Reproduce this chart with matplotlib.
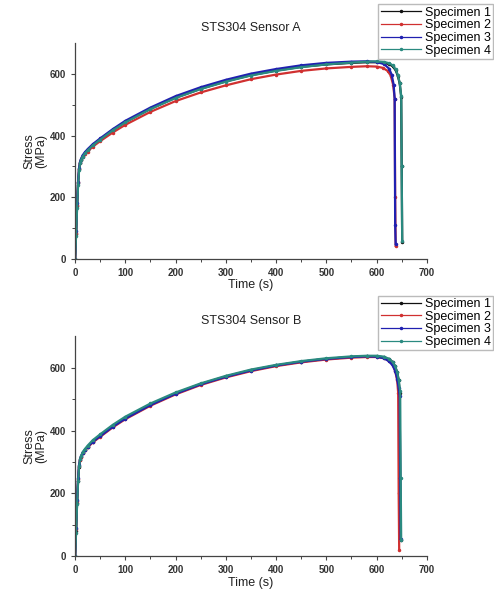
import matplotlib
matplotlib.use("Agg")
import matplotlib.pyplot as plt

plt.rcParams['font.family'] = ['Liberation Sans', 'DejaVu Sans']

specimens = ["Specimen 1", "Specimen 2", "Specimen 3", "Specimen 4"]
colors = ["#111111", "#d03030", "#2020b0", "#2a8a80"]
titles = ["STS304 Sensor A", "STS304 Sensor B"]
x_ticks = [0, 100, 200, 300, 400, 500, 600, 700]
y_ticks = [0, 200, 400, 600]

# ---- Sensor A ----
a1_t = [0, 2, 4, 6, 8, 10, 12, 15, 20, 25, 35, 50, 75, 100, 150, 200, 250, 300, 350, 400, 450, 500, 550, 580, 600, 615, 625, 632, 638, 642, 646, 649, 650, 651]
a1_s = [0, 80, 170, 245, 290, 312, 322, 333, 344, 353, 369, 388, 418, 444, 487, 523, 552, 576, 596, 611, 623, 631, 636, 638, 638, 636, 632, 625, 612, 595, 570, 525, 300, 55]
a2_t = [0, 2, 4, 6, 8, 10, 12, 15, 20, 25, 35, 50, 75, 100, 150, 200, 250, 300, 350, 400, 450, 500, 550, 580, 600, 612, 622, 628, 633, 636, 637, 638]
a2_s = [0, 85, 175, 248, 292, 312, 321, 330, 340, 348, 364, 382, 410, 435, 477, 512, 540, 563, 583, 598, 610, 618, 623, 625, 624, 620, 610, 595, 565, 520, 200, 42]
a3_t = [0, 2, 4, 6, 8, 10, 12, 15, 20, 25, 35, 50, 75, 100, 150, 200, 250, 300, 350, 400, 450, 500, 550, 580, 600, 615, 625, 630, 634, 636, 637, 638]
a3_s = [0, 90, 180, 250, 295, 315, 325, 336, 347, 356, 372, 391, 421, 448, 491, 528, 557, 581, 601, 616, 628, 636, 640, 641, 639, 632, 617, 598, 565, 520, 110, 48]
a4_t = [0, 2, 4, 6, 8, 10, 12, 15, 20, 25, 35, 50, 75, 100, 150, 200, 250, 300, 350, 400, 450, 500, 550, 580, 600, 615, 625, 632, 638, 642, 646, 649, 650, 651]
a4_s = [0, 75, 165, 240, 288, 310, 321, 332, 343, 352, 368, 387, 417, 443, 486, 522, 551, 575, 595, 610, 622, 631, 637, 640, 641, 639, 635, 628, 615, 598, 572, 530, 300, 58]

# ---- Sensor B ----
b1_t = [0, 2, 4, 6, 8, 10, 12, 15, 20, 25, 35, 50, 75, 100, 150, 200, 250, 300, 350, 400, 450, 500, 550, 580, 600, 615, 625, 632, 637, 641, 644, 646, 647, 648]
b1_s = [0, 80, 170, 240, 285, 305, 316, 328, 339, 348, 364, 383, 413, 439, 482, 518, 548, 572, 592, 607, 619, 628, 634, 636, 636, 633, 627, 618, 604, 585, 560, 520, 250, 50]
b2_t = [0, 2, 4, 6, 8, 10, 12, 15, 20, 25, 35, 50, 75, 100, 150, 200, 250, 300, 350, 400, 450, 500, 550, 580, 600, 615, 625, 632, 637, 641, 643, 644, 645]
b2_s = [0, 85, 175, 245, 288, 306, 316, 327, 337, 346, 362, 380, 410, 436, 479, 515, 545, 569, 589, 605, 617, 626, 632, 634, 634, 630, 622, 610, 590, 560, 520, 200, 20]
b3_t = [0, 2, 4, 6, 8, 10, 12, 15, 20, 25, 35, 50, 75, 100, 150, 200, 250, 300, 350, 400, 450, 500, 550, 580, 600, 615, 625, 632, 637, 641, 644, 646, 647, 648]
b3_s = [0, 90, 180, 248, 290, 308, 318, 329, 339, 348, 364, 382, 412, 438, 481, 517, 547, 571, 591, 607, 619, 628, 634, 636, 635, 630, 620, 607, 590, 565, 535, 510, 250, 55]
b4_t = [0, 2, 4, 6, 8, 10, 12, 15, 20, 25, 35, 50, 75, 100, 150, 200, 250, 300, 350, 400, 450, 500, 550, 580, 600, 615, 625, 632, 637, 641, 644, 647, 648, 649]
b4_s = [0, 75, 165, 238, 286, 308, 319, 331, 342, 352, 369, 388, 418, 444, 486, 521, 550, 574, 594, 609, 621, 630, 636, 638, 638, 635, 628, 618, 604, 586, 562, 525, 250, 52]

sensor_data = [
    [(a1_t, a1_s), (a2_t, a2_s), (a3_t, a3_s), (a4_t, a4_s)],
    [(b1_t, b1_s), (b2_t, b2_s), (b3_t, b3_s), (b4_t, b4_s)],
]

fig = plt.figure(figsize=(4.94, 5.91), dpi=100)
axes_rects = [
    [0.152, 0.562, 0.712, 0.365],
    [0.152, 0.059, 0.712, 0.372],
]
legend_anchors = [(0.998, 0.993), (0.998, 0.500)]

for k in range(2):
    ax = fig.add_axes(axes_rects[k])
    handles = []
    for i in range(4):
        t, s = sensor_data[k][i]
        h, = ax.plot(t, s, color=colors[i], lw=1.6, marker='.', ms=3,
                     label=specimens[i])
        handles.append(h)
    ax.set_xlim(0, 700)
    ax.set_ylim(0, 700)
    ax.set_xticks(x_ticks)
    ax.set_yticks(y_ticks)
    ax.set_xticks(range(50, 700, 100), minor=True)
    ax.set_yticks(range(100, 700, 200), minor=True)
    for sp in ['top', 'right']:
        ax.spines[sp].set_visible(False)
    for sp in ['left', 'bottom']:
        ax.spines[sp].set_color('#444444')
        ax.spines[sp].set_linewidth(0.9)
    ax.tick_params(axis='both', which='major', labelsize=7, length=3,
                   width=0.8, colors='#444444', labelcolor='#333333')
    ax.tick_params(axis='both', which='minor', length=2, width=0.7,
                   colors='#444444')
    for lab in ax.get_xticklabels() + ax.get_yticklabels():
        lab.set_fontweight('bold')
    ax.set_xlabel("Time (s)", fontsize=9, color='#222222', labelpad=1)
    ax.set_ylabel("Stress\n(MPa)", fontsize=9, color='#222222', labelpad=2,
                  linespacing=1.0)
    ax.set_title(titles[k], fontsize=9, color='#222222', pad=9)
    leg_handles = [plt.Line2D([], [], color=colors[i], lw=0.9, marker='.',
                              ms=3) for i in range(4)]
    fig.legend(handles=leg_handles, labels=specimens, loc='upper right',
               bbox_to_anchor=legend_anchors[k], fontsize=9,
               frameon=True, fancybox=False, edgecolor='#aaaaaa',
               borderpad=0.2, labelspacing=0.05, handlelength=3.2,
               handletextpad=0.3, borderaxespad=0.0)

fig.savefig("out.png", dpi=100)
